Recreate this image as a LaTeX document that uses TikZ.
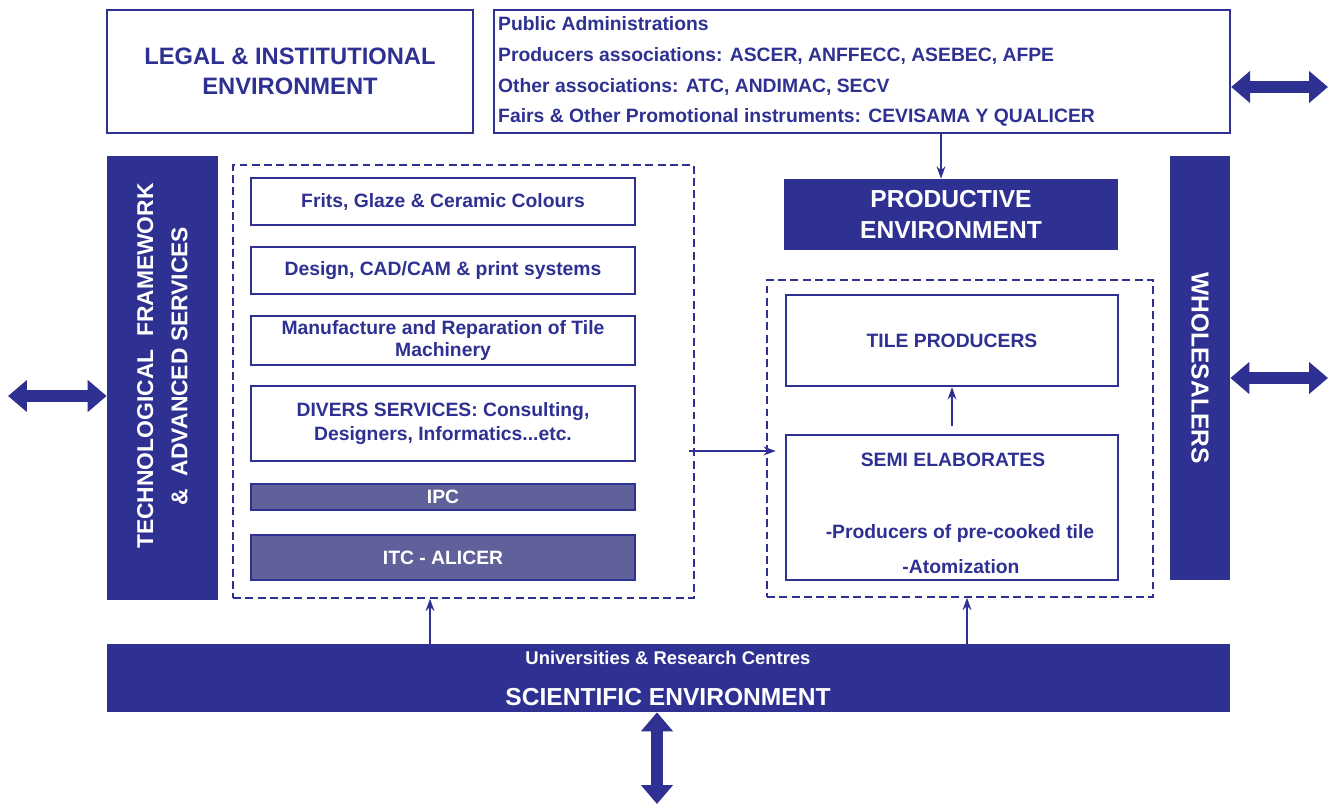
\documentclass[tikz,border=0pt]{standalone}
\usepackage{fontspec}
\setmainfont{Liberation Sans}
\usetikzlibrary{positioning,calc,arrows.meta}
\definecolor{navy}{RGB}{46,49,146}
\definecolor{slate}{RGB}{96,96,154}
\tikzset{
    sz/.style 2 args={minimum width=#1*0.02cm, minimum height=#2*0.02cm, inner sep=0pt},
    wbox/.style={draw=navy, line width=1.3pt, fill=white, text=navy, align=center},
    dbox/.style={fill=navy, text=white, align=center},
    sbox/.style={draw=navy, line width=1pt, fill=slate, text=white, font=\bfseries\fontsize{11}{13}\selectfont},
    dashbox/.style={draw=navy, line width=0.8pt, dash pattern=on 4.5pt off 2.5pt},
    itext/.style={text=navy, align=center, font=\bfseries\fontsize{11}{14}\selectfont},
    title/.style={font=\bfseries\fontsize{13.5}{17}\selectfont},
    arr/.style={navy, line width=1.2pt, -{Stealth[length=7pt,width=5pt]}},
    bigarr/.style={navy, line width=0.24cm, {Triangle[length=0.38cm,width=0.62cm]}-{Triangle[length=0.38cm,width=0.62cm]}}
}
\begin{document}
\begin{tikzpicture}[x=0.02cm, y=-0.02cm]
    \useasboundingbox (0,0) rectangle (1330,806);

    % Top row
    \node[wbox, sz={366}{123}, title] (legal) at (290,71.5) {LEGAL \& INSTITUTIONAL\\ENVIRONMENT};
    \node[wbox, sz={736}{123}] (admin) at (862,71.5) {};
    \node[text=navy, align=left, anchor=west, inner sep=0pt, font=\bfseries\fontsize{11}{17.6}\selectfont] (admintxt) at ([xshift=0.1cm]admin.west)
        {Public Administrations\\
         Producers associations: ASCER, ANFFECC, ASEBEC, AFPE\\
         Other associations: ATC, ANDIMAC, SECV\\
         Fairs \& Other Promotional instruments: CEVISAMA Y QUALICER};

    % Technological framework
    \node[dbox, sz={111}{444}] (tech) at (162.5,378) {};
    \node[text=white, align=center, rotate=90, font=\bfseries\fontsize{13}{19.5}\selectfont] (techtxt) at ([yshift=0.24cm]tech.center) {TECHNOLOGICAL\ \ FRAMEWORK\\\&\ \ ADVANCED SERVICES};

    % Auxiliary industries
    \node[dashbox, sz={461}{433}] (dashL) at (463.5,381.5) {};
    \node[wbox, sz={384}{47}, itext] (frits) at (443,201.5) {Frits, Glaze \& Ceramic Colours};
    \node[wbox, sz={384}{47}, itext] (design) at (443,270.5) {Design, CAD/CAM \& print systems};
    \node[wbox, sz={384}{49}, itext, font=\bfseries\fontsize{11}{12.5}\selectfont] (manuf) at (443,340.5) {Manufacture and Reparation of Tile\\Machinery};
    \node[wbox, sz={384}{75}, itext] (divers) at (443,423.5) {DIVERS SERVICES: Consulting,\\Designers, Informatics...etc.};
    \node[sbox, sz={384}{26}] (ipc) at (443,497) {IPC};
    \node[sbox, sz={384}{45}] (itc) at (443,557.5) {ITC - ALICER};

    % Productive environment
    \node[dbox, sz={334}{71}, font=\bfseries\fontsize{14}{17.5}\selectfont] (prod) at (951,214.5) {PRODUCTIVE\\ENVIRONMENT};
    \node[dashbox, sz={386}{317}] (dashR) at (960,438.5) {};
    \node[wbox, sz={332}{91}, itext] (tile) at (952,340.5) {TILE PRODUCERS};
    \node[wbox, sz={332}{145}] (semi) at (952,507.5) {};
    \node[itext] (semititle) at (953,460) {SEMI ELABORATES};
    \node[itext] (semiprod) at (960,533) {-Producers of pre-cooked tile};
    \node[itext] (semiatom) at (961,567) {-Atomization};

    % Wholesalers
    \node[dbox, sz={60}{424}] (whole) at (1200,368) {};
    \node[text=white, rotate=-90, font=\bfseries\fontsize{14}{17}\selectfont] (wholetxt) at (whole) {WHOLESALERS};

    % Scientific environment
    \node[dbox, sz={1123}{68}] (sci) at (668.5,678) {};
    \node[text=white, font=\bfseries\fontsize{10.5}{12}\selectfont] (scisub) at (668,658) {Universities \& Research Centres};
    \node[text=white, font=\bfseries\fontsize{14}{16}\selectfont] (scititle) at (668,697) {SCIENTIFIC ENVIRONMENT};

    % Links
    \draw[arr] (admin.south -| 941,0) -- (prod.north -| 941,0);
    \draw[arr, shorten <=0.16cm] (semi.north) -- (tile.south);
    \draw[arr] ([xshift=-0.12cm]dashL.east |- 0,451) -- ([xshift=-0.18cm]semi.west |- 0,451);
    \draw[arr] (sci.north -| 430,0) -- (dashL.south -| 430,0);
    \draw[arr] (sci.north -| 967,0) -- (dashR.south -| 967,0);

    % Outside exchanges
    \coordinate (topfree) at (1328,87);
    \coordinate (midfree) at (1328,378);
    \coordinate (leftfree) at (8,396);
    \coordinate (botfree) at (657,804);
    \draw[bigarr] (topfree -| admin.east) -- (topfree);
    \draw[bigarr] (midfree -| whole.east) -- (midfree);
    \draw[bigarr] (leftfree) -- (leftfree -| tech.west);
    \draw[bigarr] (botfree |- sci.south) -- (botfree);
\end{tikzpicture}
\end{document}
